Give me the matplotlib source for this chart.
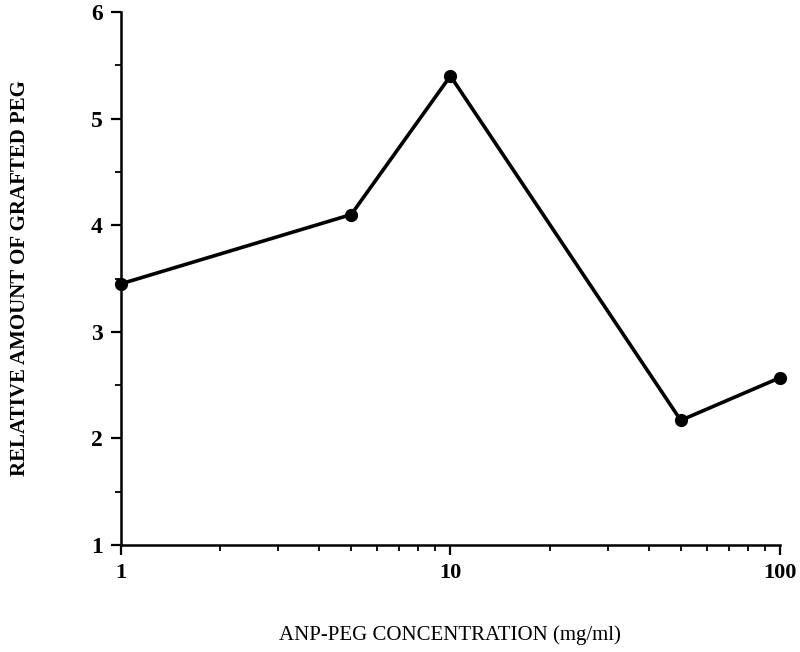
import matplotlib.pyplot as plt
from matplotlib.ticker import FixedLocator, NullFormatter, LogLocator

conc = [1, 5, 10, 50, 100]
peg_amount = [3.45, 4.1, 5.4, 2.17, 2.57]
yticks = [1, 2, 3, 4, 5, 6]
xticks = [1, 10, 100]

plt.rcParams["font.family"] = ["Liberation Serif", "DejaVu Serif"]

fig = plt.figure(figsize=(8, 6.52), dpi=100)
ax = fig.add_axes([0.151, 0.164, 0.824, 0.8176])

ax.plot(conc, peg_amount, color="black", linewidth=2.6,
        marker="o", markersize=8.5, clip_on=False, zorder=3)

ax.set_xscale("log")
ax.set_xlim(1, 100)
ax.set_ylim(1, 6)

ax.set_xticks(xticks)
ax.set_xticklabels([str(v) for v in xticks], fontsize=16, fontweight="bold")
ax.xaxis.set_minor_locator(LogLocator(base=10, subs=range(2, 10)))
ax.xaxis.set_minor_formatter(NullFormatter())

ax.set_yticks(yticks)
ax.set_yticklabels([str(v) for v in yticks], fontsize=17, fontweight="bold")
ax.yaxis.set_minor_locator(FixedLocator([1.5, 2.5, 3.5, 4.5, 5.5]))

for s in ["top", "right"]:
    ax.spines[s].set_visible(False)
for s in ["left", "bottom"]:
    ax.spines[s].set_linewidth(1.8)

ax.tick_params(which="major", direction="out", length=7, width=1.6, pad=6)
ax.tick_params(which="minor", direction="out", length=4, width=1.3)

ax.set_xlabel("ANP-PEG CONCENTRATION (mg/ml)", fontsize=15, labelpad=30)
ax.set_ylabel("RELATIVE AMOUNT OF GRAFTED PEG", fontsize=15,
              fontweight="bold", labelpad=44)

fig.savefig("out.png", dpi=100)
